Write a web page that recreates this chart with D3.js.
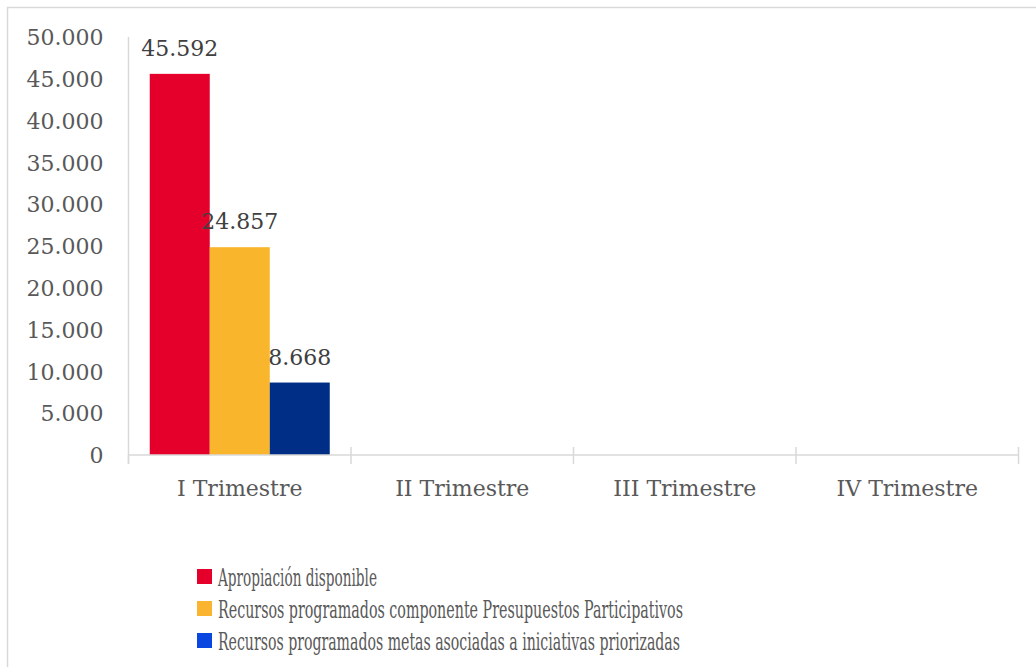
<!DOCTYPE html>
<html lang="es">
<head>
<meta charset="utf-8">
<title>Recursos por trimestre</title>
<script src="https://cdn.jsdelivr.net/npm/d3@7"></script>
<style>
  body { margin: 0; background: #fff; }
  text { font-family: "DejaVu Serif", serif; }
  .tick text { fill: #595959; font-size: 22px; }
  .lbl { fill: #404040; font-size: 22px; }
  .leg text { fill: #595959; font-size: 25px; }
</style>
</head>
<body>
<script>
// data
var quarters = ["I Trimestre", "II Trimestre", "III Trimestre", "IV Trimestre"];
var seriesNames = [
  "Apropiación disponible",
  "Recursos programados componente Presupuestos Participativos",
  "Recursos programados metas asociadas a iniciativas priorizadas"
];
var apropiacion = [45592, null, null, null];
var presupuestos = [24857, null, null, null];
var metas = [8668, null, null, null];
var yTicks = [0, 5000, 10000, 15000, 20000, 25000, 30000, 35000, 40000, 45000, 50000];

var barColors = ["#E4002B", "#F9B52C", "#002E87"];
var legendColors = ["#E4002B", "#FBB430", "#0A46E0"];

var width = 1036, height = 667;
var svg = d3.select("body").append("svg")
  .attr("width", width).attr("height", height);

// outer frame (right and bottom edges fall outside the picture)
svg.append("rect")
  .attr("x", 7.5).attr("y", 7.5)
  .attr("width", 1100).attr("height", 700)
  .attr("fill", "none").attr("stroke", "#d9d9d9").attr("stroke-width", 1.5);

var x0 = d3.scaleBand().domain(quarters).range([128.5, 1018.5]);
var x1 = d3.scaleBand().domain(d3.range(3))
  .range([0, x0.bandwidth()]).paddingOuter(0.354);
var y = d3.scaleLinear().domain([0, 50000]).range([455, 37]);

var fmt = d3.formatLocale({ decimal: ",", thousands: ".", grouping: [3], currency: ["", ""] }).format(",d");

// y axis
var yAxis = svg.append("g")
  .attr("transform", "translate(128.5,0)")
  .call(d3.axisLeft(y).tickValues(yTicks).tickFormat(fmt).tickSize(0).tickPadding(25));
yAxis.select(".domain").attr("stroke", "#d9d9d9").attr("stroke-width", 1.5)
  .attr("d", "M0," + (y(50000)) + "V" + (y(0) + 9));
yAxis.selectAll(".tick text").attr("dy", "0.35em");

// bars
var series = [apropiacion, presupuestos, metas];
var groups = svg.selectAll(".grp").data(quarters).enter().append("g")
  .attr("transform", function(d) { return "translate(" + x0(d) + ",0)"; });

groups.each(function(q, qi) {
  var g = d3.select(this);
  series.forEach(function(s, si) {
    var v = s[qi];
    if (v == null) return;
    g.append("rect")
      .attr("x", x1(si)).attr("width", x1.bandwidth())
      .attr("y", y(v)).attr("height", y(0) - y(v))
      .attr("fill", barColors[si]);
    g.append("text").attr("class", "lbl")
      .attr("x", x1(si) + x1.bandwidth() / 2)
      .attr("y", y(v) - 18)
      .attr("text-anchor", "middle")
      .text(fmt(v));
  });
});

// x axis
var xAxis = svg.append("g")
  .attr("transform", "translate(0," + y(0) + ")")
  .call(d3.axisBottom(x0).tickSize(0).tickPadding(25));
xAxis.select(".domain").attr("stroke", "#d9d9d9").attr("stroke-width", 1.5)
  .attr("d", "M" + x0.range()[0] + ",0H" + x0.range()[1]);
xAxis.selectAll(".tick text").attr("dy", "0.71em");
// category separators, crossing the axis
xAxis.selectAll(".sep").data(quarters.concat(["end"])).enter().append("line")
  .attr("x1", function(d, i) { return x0.range()[0] + i * x0.step(); })
  .attr("x2", function(d, i) { return x0.range()[0] + i * x0.step(); })
  .attr("y1", function(d, i) { return i === 0 ? 0 : -8; })
  .attr("y2", 9)
  .attr("stroke", "#d9d9d9").attr("stroke-width", 1.5);

// legend
var leg = svg.append("g").attr("class", "leg").attr("transform", "translate(197,577)");
var items = leg.selectAll("g").data(seriesNames).enter().append("g")
  .attr("transform", function(d, i) { return "translate(0," + i * 32 + ")"; });
items.append("rect").attr("x", 0).attr("y", -8).attr("width", 15).attr("height", 15)
  .attr("fill", function(d, i) { return legendColors[i]; });
items.append("text").attr("x", 21).attr("dy", "0.35em")
  .attr("textLength", function(d, i) { return [159, 465, 462][i]; })
  .attr("lengthAdjust", "spacingAndGlyphs")
  .text(function(d) { return d; });
</script>
</body>
</html>
